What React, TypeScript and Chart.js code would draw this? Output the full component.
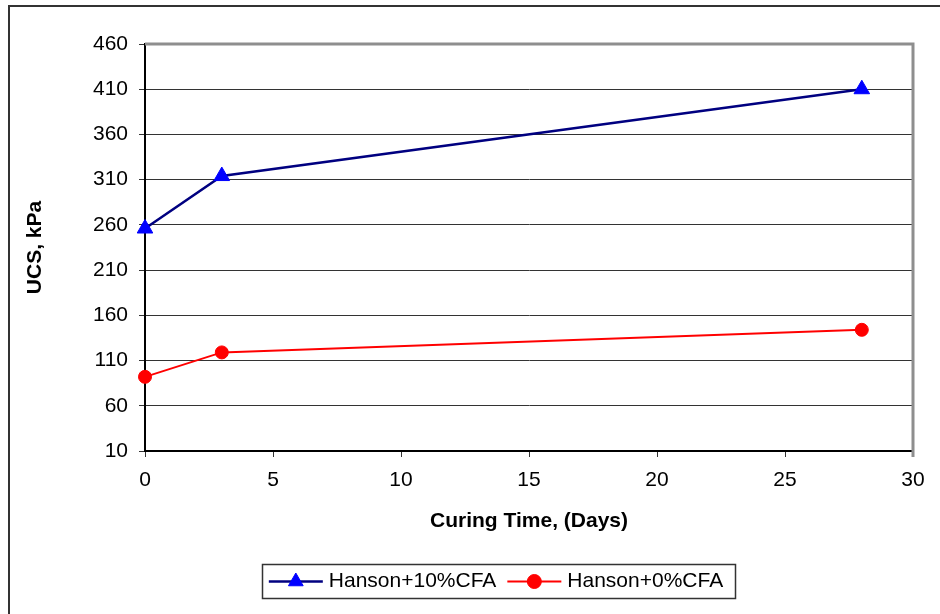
import React, { useEffect, useRef } from 'react';
import { Chart, registerables } from 'chart.js';

Chart.register(...registerables);

// ---- data ----
const days = [0, 3, 28];
const hanson10 = [256, 314, 410];
const hanson0 = [92, 119, 144];
const seriesLabels = ['Hanson+10%CFA', 'Hanson+0%CFA'];
const xTitle = 'Curing Time, (Days)';
const yTitle = 'UCS, kPa';
const xRange = [0, 30];
const xStep = 5;
const yRange = [10, 460];
const yStep = 50;

const FONT = '"Liberation Sans", Arial, Helvetica, sans-serif';
const FS = 21;

function drawMarker(ctx: CanvasRenderingContext2D, style: string, x: number, y: number, r: number, color: string) {
  ctx.save();
  ctx.fillStyle = color;
  ctx.strokeStyle = color;
  ctx.lineWidth = 1;
  ctx.beginPath();
  if (style === 'triangle') {
    let rad = 0;
    ctx.moveTo(x + Math.sin(rad) * r, y - Math.cos(rad) * r);
    rad += (2 * Math.PI) / 3;
    ctx.lineTo(x + Math.sin(rad) * r, y - Math.cos(rad) * r);
    rad += (2 * Math.PI) / 3;
    ctx.lineTo(x + Math.sin(rad) * r, y - Math.cos(rad) * r);
    ctx.closePath();
  } else {
    ctx.arc(x, y, r, 0, Math.PI * 2);
  }
  ctx.fill();
  ctx.stroke();
  ctx.restore();
}

const framePlugin = {
  id: 'excelFrame',
  afterDraw(chart: any) {
    const { ctx, chartArea: a } = chart;
    ctx.save();
    // plot area top/right border (gray)
    ctx.strokeStyle = '#8e8e8e';
    ctx.lineWidth = 3;
    ctx.beginPath();
    ctx.moveTo(a.left, a.top);
    ctx.lineTo(a.right, a.top);
    ctx.lineTo(a.right, a.bottom + 6);
    ctx.stroke();

    // outer chart frame
    ctx.strokeStyle = '#333';
    ctx.lineWidth = 2;
    ctx.strokeRect(9, 6, 2000, 2000);

    // legend
    ctx.font = `${FS}px ${FONT}`;
    ctx.textBaseline = 'middle';
    ctx.textAlign = 'left';
    const ds = chart.data.datasets;
    const lineLen = 54, gap = 6, itemGap = 11;
    const widths = ds.map((d: any) => ctx.measureText(d.label).width);
    const total = ds.length * (lineLen + gap) + widths.reduce((s: number, w: number) => s + w, 0) + itemGap * (ds.length - 1);
    const cx = 496, cy = 581.5;
    let x = cx - total / 2;
    ctx.strokeStyle = '#333';
    ctx.lineWidth = 1.5;
    ctx.strokeRect(Math.round(x - 7) + 0.5, 564.5, Math.round(total + 19), 34);
    ds.forEach((d: any, i: number) => {
      ctx.strokeStyle = d.borderColor;
      ctx.lineWidth = d.borderWidth;
      ctx.beginPath();
      ctx.moveTo(x, cy);
      ctx.lineTo(x + lineLen, cy);
      ctx.stroke();
      drawMarker(ctx, d.pointStyle, x + lineLen / 2, cy, d.pointStyle === 'triangle' ? 8.5 : 7, d.pointBackgroundColor);
      ctx.fillStyle = '#000';
      ctx.fillText(d.label, x + lineLen + gap, cy);
      x += lineLen + gap + widths[i] + itemGap;
    });
    ctx.restore();
  },
};

export default function App() {
  const ref = useRef<HTMLCanvasElement>(null);
  useEffect(() => {
    if (!ref.current) return;
    const tickFont = { size: FS, family: FONT };
    const titleFont = { size: FS, family: FONT, weight: 'bold' as const };
    const chart = new Chart(ref.current, {
      type: 'line',
      data: {
        datasets: [
          {
            label: seriesLabels[0],
            data: days.map((d, i) => ({ x: d, y: hanson10[i] })),
            borderColor: '#000080',
            borderWidth: 2.5,
            pointStyle: 'triangle',
            pointRadius: 9,
            pointBackgroundColor: '#0000ff',
            pointBorderColor: '#0000ff',
            pointBorderWidth: 1,
            tension: 0,
            clip: false as any,
          },
          {
            label: seriesLabels[1],
            data: days.map((d, i) => ({ x: d, y: hanson0[i] })),
            borderColor: '#ff0000',
            borderWidth: 2,
            pointStyle: 'circle',
            pointRadius: 6.5,
            pointBackgroundColor: '#ff0000',
            pointBorderColor: '#ff0000',
            pointBorderWidth: 1,
            tension: 0,
            clip: false as any,
          },
        ],
      },
      options: {
        animation: false,
        responsive: false,
        devicePixelRatio: 1,
        layout: { padding: { left: 0, right: 27, top: 44, bottom: 63 } },
        plugins: { legend: { display: false }, tooltip: { enabled: false } },
        scales: {
          x: {
            type: 'linear',
            min: xRange[0],
            max: xRange[1],
            ticks: { stepSize: xStep, color: '#000', font: tickFont, padding: 11 },
            grid: { drawOnChartArea: false, color: '#333', tickLength: 6 },
            border: { color: '#000', width: 2 },
            title: { display: true, text: xTitle, color: '#000', font: titleFont, padding: { top: 0, bottom: 17 } },
            afterFit(s: any) { s.height = 100; },
          },
          y: {
            type: 'linear',
            min: yRange[0],
            max: yRange[1],
            ticks: { stepSize: yStep, color: '#000', font: tickFont, padding: 11 },
            grid: { color: '#333', tickLength: 6 },
            border: { color: '#000', width: 2 },
            title: { display: true, text: yTitle, color: '#000', font: titleFont, padding: { top: 23, bottom: 0 } },
            afterFit(s: any) { s.width = 145; },
          },
        },
      },
      plugins: [framePlugin],
    });
    return () => chart.destroy();
  }, []);
  return (
    <div style={{ position: 'absolute', left: 0, top: 0, width: 940, height: 614, background: '#fff' }}>
      <canvas ref={ref} width={940} height={614} />
    </div>
  );
}
